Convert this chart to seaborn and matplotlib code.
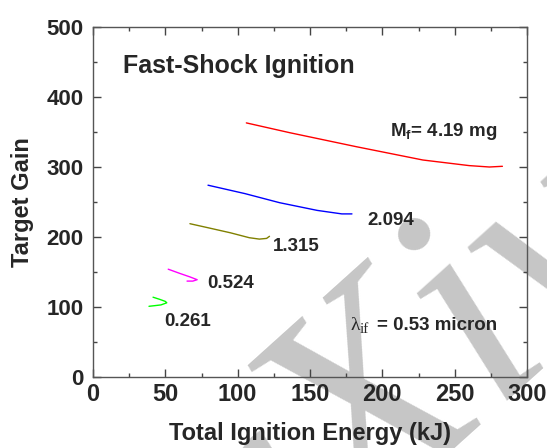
import matplotlib
matplotlib.use("Agg")
import matplotlib.pyplot as plt
from matplotlib.ticker import MultipleLocator
import seaborn as sns
import pandas as pd

# Gain curves: total ignition energy (kJ) vs target gain, one per fuel mass
energy_419 = [106, 136, 182, 228, 260, 274, 283]
gain_419 = [363, 349, 329, 310, 302, 300, 301]

energy_2094 = [79.5, 105, 129, 155, 172, 179]
gain_2094 = [274, 262, 249, 238, 233, 233]

energy_1315 = [67, 80, 95, 108, 115, 120, 122]
gain_1315 = [219, 213, 206, 199, 197, 198, 201]

energy_0524 = [52, 60, 67, 72, 69, 65]
gain_0524 = [154, 148, 143, 139, 137, 137]

energy_0261 = [41.5, 46, 50, 51, 47, 43, 38.7]
gain_0261 = [114, 111, 108, 106, 103, 102, 101]

mass_labels = ["4.19", "2.094", "1.315", "0.524", "0.261"]
curve_colors = ["#ff0000", "#0000ff", "#808000", "#ff00ff", "#00ff00"]

x_ticks = [0, 50, 100, 150, 200, 250, 300]
y_ticks = [0, 100, 200, 300, 400, 500]

sns.set_theme(style="white")
plt.rcParams["font.family"] = ["Liberation Sans", "DejaVu Sans"]
plt.rcParams["mathtext.fontset"] = "custom"
plt.rcParams["mathtext.rm"] = "Liberation Sans:bold"
plt.rcParams["mathtext.bf"] = "Liberation Sans:bold"
plt.rcParams["mathtext.it"] = "Liberation Sans:bold"

fig = plt.figure(figsize=(5.47, 4.48), dpi=100)
fig.patch.set_facecolor("white")
ax = fig.add_axes([93 / 547, 1 - 377 / 448, 434 / 547, 350 / 448])
ax.patch.set_visible(False)

frames = []
for lab, xs, ys in zip(
    mass_labels,
    [energy_419, energy_2094, energy_1315, energy_0524, energy_0261],
    [gain_419, gain_2094, gain_1315, gain_0524, gain_0261],
):
    frames.append(pd.DataFrame({"energy": xs, "gain": ys, "mass": lab}))
df = pd.concat(frames, ignore_index=True)

sns.lineplot(
    data=df, x="energy", y="gain", hue="mass", palette=curve_colors,
    hue_order=mass_labels, sort=False, estimator=None, units="mass",
    linewidth=1.0, legend=False, ax=ax, zorder=3,
)

ax.set_xlim(0, 300)
ax.set_ylim(0, 500)
ax.set_xticks(x_ticks)
ax.set_yticks(y_ticks)
ax.xaxis.set_minor_locator(MultipleLocator(25))
ax.yaxis.set_minor_locator(MultipleLocator(50))
ax.tick_params(which="both", direction="in", top=True, right=True,
               bottom=True, left=True, color="#444444")
ax.tick_params(which="major", length=6, width=1)
ax.tick_params(which="minor", length=3, width=1)
ax.tick_params(axis="x", which="major", labelsize=17, pad=4)
ax.tick_params(axis="y", which="major", labelsize=16, pad=7)
for lbl in ax.get_xticklabels() + ax.get_yticklabels():
    lbl.set_fontweight("bold")
for sp in ax.spines.values():
    sp.set_color("#555555")
    sp.set_linewidth(1.0)

ax.set_xlabel("Total Ignition Energy (kJ)", fontsize=17, fontweight="bold", labelpad=12)
ax.set_ylabel("Target Gain", fontsize=17, fontweight="bold", labelpad=9)

ax.text(20.5, 444, "Fast-Shock Ignition", fontsize=18, fontweight="bold", va="center")

lab_kw = dict(fontsize=13.5, fontweight="bold", va="center", zorder=4)
ax.text(205, 350, r"M$_{\mathbf{f}}$= 4.19 mg", **lab_kw)
ax.text(190, 224, "2.094", **lab_kw)
ax.text(124, 186, "1.315", **lab_kw)
ax.text(79, 133, "0.524", **lab_kw)
ax.text(49, 79, "0.261", **lab_kw)

ax.text(178, 74, "λ", fontsize=14, family="Liberation Serif", va="center", zorder=4)
ax.text(184.5, 68, "if", fontsize=11, family="Liberation Serif", va="center", zorder=4)
ax.text(196, 74, "= 0.53 micron", **lab_kw)

# faint stamp across the lower right, behind the axes content
fig.text(405 / 547, 1 - 485 / 448, "arXiv", fontsize=220, family="Liberation Serif",
         style="italic", color="#c6c6c6", rotation=42, rotation_mode="anchor",
         ha="center", va="baseline", zorder=-1)

fig.savefig("out.png", dpi=100)
